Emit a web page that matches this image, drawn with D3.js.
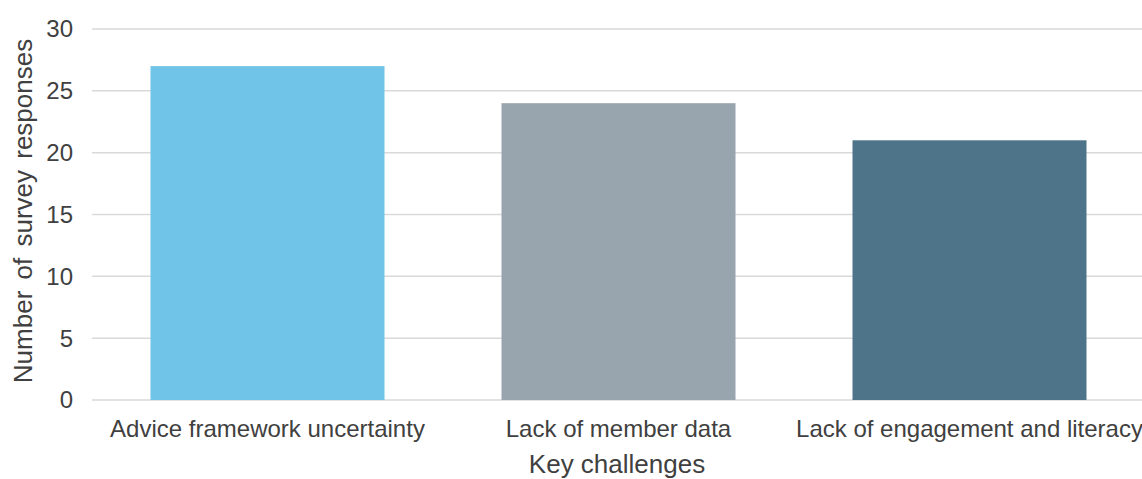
<!DOCTYPE html>
<html><head><meta charset="utf-8">
<script src="https://cdn.jsdelivr.net/npm/d3@7"></script>
<style>body{margin:0;background:#fff}svg{display:block}</style>
</head><body>
<svg id="c" width="1142" height="479"></svg>
<script>
const categories = ["Advice framework uncertainty", "Lack of member data", "Lack of engagement and literacy"];
const values = [27, 24, 21];
const colors = ["#70C4E8", "#98A4AE", "#4E7489"];
const yTicks = [0, 5, 10, 15, 20, 25, 30];

const svg = d3.select("#c");
const L = 92, R = 1145, T = 29, B = 400;
const x = d3.scaleBand().domain(categories).range([L, R]).paddingInner(1/3).paddingOuter(1/6);
const y = d3.scaleLinear().domain([0, 30]).range([B, T]);
const font = "'Liberation Sans', Arial, sans-serif";
const txt = "#404040";

svg.append("g").selectAll("line").data(yTicks).join("line")
  .attr("x1", L).attr("x2", 1142).attr("y1", d => y(d)).attr("y2", d => y(d))
  .attr("stroke", "#d9d9d9").attr("stroke-width", 1.5);

svg.append("g").selectAll("rect").data(categories).join("rect")
  .attr("x", d => x(d)).attr("width", x.bandwidth())
  .attr("y", (d, i) => y(values[i])).attr("height", (d, i) => B - y(values[i]))
  .attr("fill", (d, i) => colors[i]);

svg.append("g").selectAll("text").data(yTicks).join("text")
  .attr("x", 73).attr("y", d => y(d)).attr("dy", "0.35em")
  .attr("text-anchor", "end").attr("font-family", font).attr("font-size", 24)
  .attr("fill", txt).text(d => d);

svg.append("g").selectAll("text").data(categories).join("text")
  .attr("x", d => x(d) + x.bandwidth() / 2).attr("y", 437)
  .attr("text-anchor", "middle").attr("font-family", font).attr("font-size", 24)
  .attr("fill", txt).text(d => d);

svg.append("text").attr("x", 617).attr("y", 473).attr("text-anchor", "middle")
  .attr("font-family", font).attr("font-size", 26).attr("fill", txt).text("Key challenges");

svg.append("text").attr("transform", "translate(32,211) rotate(-90)").attr("text-anchor", "middle")
  .attr("font-family", font).attr("font-size", 26).attr("word-spacing", 4).attr("fill", txt).text("Number of survey responses");
</script>
</body></html>
